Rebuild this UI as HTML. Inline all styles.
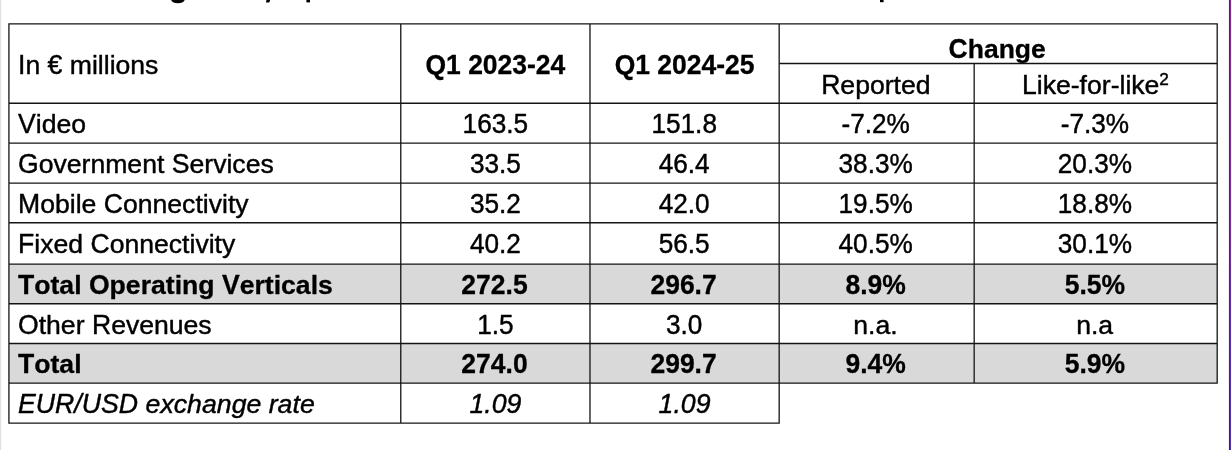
<!DOCTYPE html>
<html><head><meta charset="utf-8"><title>Table</title>
<style>
html,body{margin:0;padding:0;background:#fff;}
body{width:1231px;height:450px;overflow:hidden;position:relative;font-family:"Liberation Sans",sans-serif;}
svg{position:absolute;left:0;top:0;display:block;will-change:transform;}
text{font-family:"Liberation Sans",sans-serif;font-size:26.6px;fill:#000;stroke:#000;stroke-width:0.42;stroke-linejoin:round;font-kerning:none;}
.b{font-weight:bold;font-size:26.6px;stroke-width:0.3;}
.bn{font-weight:bold;font-size:26.5px;stroke-width:0.3;}
.i{font-style:italic;font-size:26.7px;}
.n{font-size:26.2px;}
.c{text-anchor:middle;}
</style></head><body>
<svg width="1231" height="450" viewBox="0 0 1231 450">
<defs>
<linearGradient id="pg1" x1="0" y1="0" x2="0" y2="1"><stop offset="0" stop-color="#5e1a72"/><stop offset="0.5" stop-color="#5a1c80"/><stop offset="0.75" stop-color="#45209a"/><stop offset="1" stop-color="#381c8c"/></linearGradient>
<linearGradient id="pg2" x1="0" y1="0" x2="0" y2="1"><stop offset="0" stop-color="#842e92"/><stop offset="0.5" stop-color="#7e2e9e"/><stop offset="0.75" stop-color="#5a30ae"/><stop offset="1" stop-color="#5232aa"/></linearGradient>
</defs>
<rect x="0" y="0" width="1231" height="450" fill="#ffffff"/>
<rect x="0" y="0" width="1.15" height="450" fill="#e0e0e0"/>
<rect x="1228.92" y="0" width="1.08" height="450" fill="url(#pg1)"/>
<rect x="1230" y="0" width="1" height="450" fill="url(#pg2)"/>

<rect x="8.92" y="264.05" width="1208.28" height="39.69999999999999" fill="#d9d9d9"/>
<rect x="8.92" y="343.5" width="1208.28" height="39.660000000000025" fill="#d9d9d9"/>
<path d="M8.27,23.85L1217.85,23.85M8.92,103.25L1217.20,103.25M8.92,143.07L1217.20,143.07M8.92,183.07L1217.20,183.07M8.92,222.75L1217.20,222.75M8.92,264.05L1217.20,264.05M8.92,303.75L1217.20,303.75M8.92,343.50L1217.20,343.50M8.92,383.16L1217.20,383.16M8.27,423.12L779.82,423.12M779.17,63.50L1217.20,63.50M8.92,23.85L8.92,423.12M400.77,23.85L400.77,423.12M589.98,23.85L589.98,423.12M779.17,23.85L779.17,423.12M974.17,63.50L974.17,383.16M1217.20,23.85L1217.20,383.81" fill="none" stroke="#141414" stroke-width="1.3"/>
<text transform="translate(18.00,73.5) scale(1,1.055)" class="">I</text>
<text x="25.39" y="73.5" class="">n&#160;</text>
<text transform="translate(47.57,73.5) scale(1,1.055)" class="">€&#160;</text>
<text x="69.76" y="73.5" class="">millions</text>
<text transform="translate(495.375,73.7) scale(1,1.055)" class="bn c">Q1 2023-24</text>
<text transform="translate(684.575,73.7) scale(1,1.055)" class="bn c">Q1 2024-25</text>
<text transform="translate(948.60,58.0) scale(1,1.055)" class="bn">C</text>
<text x="967.73" y="58.0" class="bn">hange</text>
<text transform="translate(821.16,94) scale(1,1.055)" class="">R</text>
<text x="840.37" y="94" class="">eported</text>
<text transform="translate(1021.97,94) scale(1,1.055)" class="">L</text>
<text x="1036.76" y="94" class="">ike-for-like</text>
<text x="1159.14" y="85.3" style="font-size:17.2px">2</text>
<text transform="translate(18.00,132.6) scale(1,1.055)" class="">V</text>
<text x="35.74" y="132.6" class="">ideo</text>
<text transform="translate(495.375,132.6) scale(1,1.055)" class="n c">163.5</text>
<text transform="translate(684.1750000000001,132.6) scale(1,1.055)" class="n c">151.8</text>
<text transform="translate(875.67,132.6) scale(1,1.055)" class="n c">-7.2%</text>
<text transform="translate(1094.885,132.6) scale(1,1.055)" class="n c">-7.3%</text>
<text transform="translate(18.00,172.6) scale(1,1.055)" class="">G</text>
<text x="38.69" y="172.6" class="">overnment&#160;</text>
<text transform="translate(171.76,172.6) scale(1,1.055)" class="">S</text>
<text x="189.50" y="172.6" class="">ervices</text>
<text transform="translate(495.375,172.6) scale(1,1.055)" class="n c">33.5</text>
<text transform="translate(684.1750000000001,172.6) scale(1,1.055)" class="n c">46.4</text>
<text transform="translate(875.67,172.6) scale(1,1.055)" class="n c">38.3%</text>
<text transform="translate(1094.885,172.6) scale(1,1.055)" class="n c">20.3%</text>
<text transform="translate(18.00,212.6) scale(1,1.055)" class="">M</text>
<text x="40.16" y="212.6" class="">obile&#160;</text>
<text transform="translate(103.75,212.6) scale(1,1.055)" class="">C</text>
<text x="122.96" y="212.6" class="">onnectivity</text>
<text transform="translate(495.375,212.6) scale(1,1.055)" class="n c">35.2</text>
<text transform="translate(684.1750000000001,212.6) scale(1,1.055)" class="n c">42.0</text>
<text transform="translate(875.67,212.6) scale(1,1.055)" class="n c">19.5%</text>
<text transform="translate(1094.885,212.6) scale(1,1.055)" class="n c">18.8%</text>
<text transform="translate(18.00,252.6) scale(1,1.055)" class="">F</text>
<text x="34.25" y="252.6" class="">ixed&#160;</text>
<text transform="translate(90.44,252.6) scale(1,1.055)" class="">C</text>
<text x="109.65" y="252.6" class="">onnectivity</text>
<text transform="translate(495.375,252.6) scale(1,1.055)" class="n c">40.2</text>
<text transform="translate(684.1750000000001,252.6) scale(1,1.055)" class="n c">56.5</text>
<text transform="translate(875.67,252.6) scale(1,1.055)" class="n c">40.5%</text>
<text transform="translate(1094.885,252.6) scale(1,1.055)" class="n c">30.1%</text>
<text transform="translate(18.00,294.3) scale(1,1.055)" class="b">T</text>
<text x="34.25" y="294.3" class="b">otal&#160;</text>
<text transform="translate(88.93,294.3) scale(1,1.055)" class="b">O</text>
<text x="109.62" y="294.3" class="b">perating&#160;</text>
<text transform="translate(221.94,294.3) scale(1,1.055)" class="b">V</text>
<text x="239.68" y="294.3" class="b">erticals</text>
<text transform="translate(494.475,294.1) scale(1,1.055)" class="bn c">272.5</text>
<text transform="translate(683.575,294.1) scale(1,1.055)" class="bn c">296.7</text>
<text transform="translate(875.67,294.1) scale(1,1.055)" class="bn c">8.9%</text>
<text transform="translate(1094.885,294.1) scale(1,1.055)" class="bn c">5.5%</text>
<text transform="translate(18.00,333.9) scale(1,1.055)" class="">O</text>
<text x="38.69" y="333.9" class="">ther&#160;</text>
<text transform="translate(91.92,333.9) scale(1,1.055)" class="">R</text>
<text x="111.13" y="333.9" class="">evenues</text>
<text transform="translate(495.375,333.9) scale(1,1.055)" class="n c">1.5</text>
<text transform="translate(684.1750000000001,333.9) scale(1,1.055)" class="n c">3.0</text>
<text x="875.4699999999999" y="333.9" class="c">n.a.</text>
<text x="1094.685" y="333.9" class="c">n.a</text>
<text transform="translate(18.00,373.4) scale(1,1.055)" class="b">T</text>
<text x="34.25" y="373.4" class="b">otal</text>
<text transform="translate(494.475,373.2) scale(1,1.055)" class="bn c">274.0</text>
<text transform="translate(683.575,373.2) scale(1,1.055)" class="bn c">299.7</text>
<text transform="translate(875.67,373.2) scale(1,1.055)" class="bn c">9.4%</text>
<text transform="translate(1094.885,373.2) scale(1,1.055)" class="bn c">5.9%</text>
<text transform="translate(18.00,413) scale(1,1.055)" class="i">EUR/USD&#160;</text>
<text x="145.58" y="413" class="i">exchange&#160;rate</text>
<text transform="translate(495.375,413) scale(1,1.055)" class="i c">1.09</text>
<text transform="translate(684.575,413) scale(1,1.055)" class="i c">1.09</text>
<path d="M172.2,-1.5 C173.2,2.7 182.6,2.7 183.6,-1.5" fill="none" stroke="#000" stroke-width="3.1"/>
<path d="M266.6,-1 L270.6,-1 L269.2,2.6 L266.0,2.6 Z" fill="#000"/>
<rect x="306.4" y="-1" width="3.6" height="3.4" fill="#000"/>
<rect x="880.0" y="-1" width="3.6" height="3.2" fill="#000"/>
</svg></body></html>
